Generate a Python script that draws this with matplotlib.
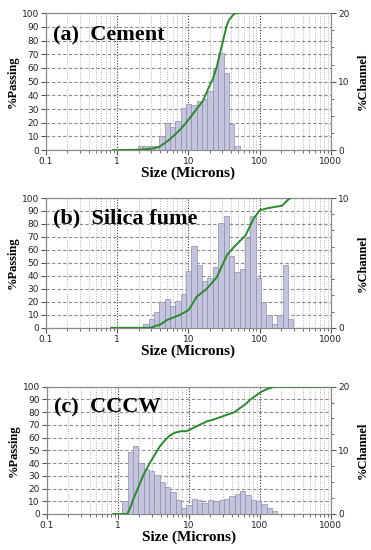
import numpy as np
import matplotlib.pyplot as plt
from matplotlib.ticker import FixedLocator, MultipleLocator, NullFormatter

# ---- data
titles = ['(a)  Cement', '(b)  Silica fume', '(c)  CCCW']
channel_max = [20, 10, 20]

# channel edges (microns) and %channel per channel
cement_edges = [1.945, 2.312, 2.75, 3.27, 3.889, 4.625, 5.5, 6.541, 7.778, 9.25,
                11.0, 13.08, 15.56, 18.5, 22.0, 26.16, 31.11, 37.0, 44.0, 52.33]
cement_channel = [0.6, 0.6, 0.6, 0.6, 2.0, 4.0, 3.4, 4.2, 6.2, 6.8,
                  6.6, 7.2, 7.4, 8.6, 12.0, 14.2, 11.2, 3.8, 0.6]

silica_edges = [2.312, 2.75, 3.27, 3.889, 4.625, 5.5, 6.541, 7.778, 9.25, 11.0,
                13.08, 15.56, 18.5, 22.0, 26.16, 31.11, 37.0, 44.0, 52.33, 62.23,
                74.0, 88.0, 104.7, 124.5, 148.0, 176.0, 209.3, 248.9, 296.0]
silica_channel = [0.3, 0.7, 1.2, 2.0, 2.2, 1.7, 2.1, 2.6, 4.4, 6.3,
                  4.8, 3.6, 3.8, 4.7, 8.1, 8.6, 5.5, 4.3, 4.5, 6.9,
                  8.6, 3.8, 2.0, 1.0, 0.3, 1.0, 4.8, 0.7]

cccw_edges = [1.156, 1.375, 1.635, 1.945, 2.312, 2.75, 3.27, 3.889, 4.625, 5.5,
              6.541, 7.778, 9.25, 11.0, 13.08, 15.56, 18.5, 22.0, 26.16, 31.11,
              37.0, 44.0, 52.33, 62.23, 74.0, 88.0, 104.7, 124.5, 148.0, 176.0]
cccw_channel = [2.0, 9.8, 10.6, 8.0, 7.0, 6.8, 6.2, 5.0, 4.2, 3.4,
                2.2, 1.0, 1.4, 2.4, 2.2, 1.8, 2.2, 2.0, 2.2, 2.4,
                2.8, 3.2, 3.6, 3.0, 2.2, 2.0, 1.6, 1.0, 0.4]

# cumulative %passing curves
cement_size = [0.87, 2.0, 3.0, 3.9, 4.6, 5.5, 6.5, 7.8, 9.25, 11, 13, 16, 19,
               22, 25, 30, 34, 37, 42, 45, 50]
cement_pass = [0, 0.3, 1, 2.5, 5, 8, 11.5, 15.5, 20, 25, 30, 36, 45,
               52, 61, 78, 90, 95, 98.5, 100, 100]

silica_size = [0.83, 2.9, 4.0, 5.0, 7.6, 10, 13.1, 18, 25, 34.7, 43, 63, 82,
               100, 126, 157, 206, 243, 270]
silica_pass = [0, 0, 2.5, 6, 10, 13.6, 24, 30, 39, 56, 62, 71, 84,
               90.5, 92, 93, 94, 98, 100]

cccw_size = [0.87, 1.36, 1.5, 1.635, 1.945, 2.312, 2.75, 3.27, 3.889, 4.625,
             5.5, 6.5, 7.8, 9.25, 11, 13, 15.5, 18.5, 22, 26, 31, 37, 44, 52,
             62, 74, 88, 105, 125, 150, 170, 1000]
cccw_pass = [0, 0, 5, 11, 21, 31, 39, 46, 53, 58,
             62, 64, 65, 65, 67, 69, 71, 73, 74, 75.5, 77, 78.5, 80, 83,
             86, 90, 93, 96, 98, 99.5, 100, 100]

panels = [
    (cement_edges, cement_channel, cement_size, cement_pass),
    (silica_edges, silica_channel, silica_size, silica_pass),
    (cccw_edges, cccw_channel, cccw_size, cccw_pass),
]

# axes boxes in figure fractions [left, bottom, width, height]
boxes = [[0.124, 0.727, 0.768, 0.249],
         [0.124, 0.404, 0.768, 0.236],
         [0.126, 0.0655, 0.766, 0.2315]]

serif = ['Liberation Serif', 'DejaVu Serif']
tick_gray = '#555555'

fig = plt.figure(figsize=(3.71, 5.5), dpi=100)

for i, (edges, channel, size, passing) in enumerate(panels):
    ax = fig.add_axes(boxes[i])
    ax2 = ax.twinx()
    ax3 = ax.twinx()

    # grid layer (bottom)
    ax.set_xscale('log')
    ax.set_xlim(0.1, 1000)
    ax.set_ylim(0, 100)
    ax.yaxis.set_major_locator(MultipleLocator(10))
    ax.xaxis.set_major_locator(FixedLocator([0.1, 1, 10, 100, 1000]))
    ax.set_xticklabels(['0.1', '1', '10', '100', '1000'])
    ax.xaxis.set_minor_formatter(NullFormatter())
    ax.grid(True, axis='y', which='major', color='#8a8a8a', ls=(0, (3, 2)), lw=0.8)
    ax.grid(True, axis='x', which='major', color='#333333', ls=(0, (1, 1.5)), lw=0.8)
    ax.grid(True, axis='x', which='minor', color='#b5b5b5', ls=(0, (1, 1.5)), lw=0.7)
    ax.tick_params(which='both', direction='out', colors=tick_gray, labelsize=6.5,
                   labelcolor='#222222', pad=1.5)
    ax.tick_params(which='major', length=3.5, width=0.8)
    ax.tick_params(which='minor', length=2, width=0.6)

    # bars on the %Channel axis
    ax2.bar(edges[:-1], channel, width=np.diff(edges), align='edge',
            color='#c4c4df', edgecolor='#8e8eaa', lw=0.5)
    ax2.set_ylim(0, channel_max[i])
    ax2.yaxis.set_major_locator(MultipleLocator(10))
    ax2.yaxis.set_minor_locator(MultipleLocator(channel_max[i] / 8))
    ax2.tick_params(which='both', direction='out', colors=tick_gray, labelsize=6.5,
                    labelcolor='#222222', pad=1.5)
    ax2.tick_params(which='major', length=3.5, width=0.8)
    ax2.tick_params(which='minor', length=2, width=0.6)
    ax2.set_ylabel('%Channel', fontfamily=serif, fontweight='bold', fontsize=9,
                   labelpad=5)

    # cumulative line on top
    ax3.plot(size, passing, color='#2b8a2b', lw=1.4)
    ax3.set_ylim(0, 100)
    ax3.set_yticks([])
    for sp in ax3.spines.values():
        sp.set_visible(False)

    for a in (ax, ax2):
        for sp in a.spines.values():
            sp.set_color('#8a8a8a')
            sp.set_linewidth(0.8)

    ax.set_ylabel('%Passing', fontfamily=serif, fontweight='bold', fontsize=9,
                  labelpad=2)
    ax.set_xlabel('Size (Microns)', fontfamily=serif, fontweight='bold',
                  fontsize=11, labelpad=0.5)
    ax3.text(0.025, 0.80, titles[i], transform=ax3.transAxes, fontfamily=serif,
             fontweight='bold', fontsize=16, ha='left', va='baseline')

fig.savefig('out.png', dpi=100)
